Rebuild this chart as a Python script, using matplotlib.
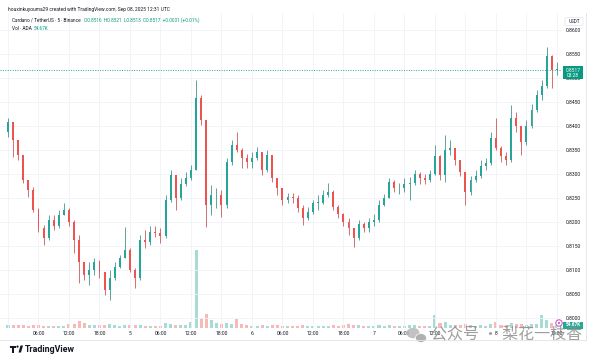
import matplotlib
matplotlib.use('Agg')
import matplotlib.pyplot as plt
import matplotlib.patches as mpatches
import numpy as np

plt.rcParams['font.family'] = ['Roboto', 'Noto Sans CJK SC', 'DejaVu Sans']

# ADA/USDT, hourly candles, Sep 04 00:00 -> Sep 08 12:00 UTC
first_open = 0.8388
closes = [0.8408, 0.8371, 0.8340, 0.8288, 0.8267, 0.8225, 0.8188, 0.8167, 0.8204, 0.8192,
          0.8215, 0.8225, 0.8200, 0.8163, 0.8117, 0.8090, 0.8100, 0.8117, 0.8096, 0.8058,
          0.8083, 0.8106, 0.8125, 0.8142, 0.8100, 0.8083, 0.8163, 0.8158, 0.8179, 0.8177,
          0.8171, 0.8246, 0.8298, 0.8250, 0.8279, 0.8292, 0.8308, 0.8458, 0.8413, 0.8235,
          0.8256, 0.8256, 0.8235, 0.8325, 0.8360, 0.8350, 0.8333, 0.8325, 0.8333, 0.8346,
          0.8308, 0.8340, 0.8292, 0.8271, 0.8246, 0.8252, 0.8250, 0.8229, 0.8208, 0.8221,
          0.8240, 0.8240, 0.8256, 0.8263, 0.8231, 0.8217, 0.8200, 0.8188, 0.8167, 0.8196,
          0.8188, 0.8200, 0.8204, 0.8235, 0.8250, 0.8283, 0.8271, 0.8271, 0.8279, 0.8281,
          0.8300, 0.8292, 0.8288, 0.8300, 0.8338, 0.8298, 0.8350, 0.8354, 0.8329, 0.8304,
          0.8263, 0.8288, 0.8296, 0.8317, 0.8323, 0.8375, 0.8354, 0.8338, 0.8329, 0.8417,
          0.8400, 0.8367, 0.8400, 0.8433, 0.8465, 0.8483, 0.8546, 0.8517, 0.8517]
highs = [0.8417, 0.8408, 0.8371, 0.8333, 0.8288, 0.8273, 0.8229, 0.8194, 0.8215, 0.8215,
         0.8225, 0.8240, 0.8229, 0.8204, 0.8173, 0.8117, 0.8117, 0.8125, 0.8121, 0.8096,
         0.8100, 0.8117, 0.8131, 0.8190, 0.8146, 0.8104, 0.8173, 0.8183, 0.8192, 0.8192,
         0.8188, 0.8256, 0.8308, 0.8298, 0.8292, 0.8304, 0.8319, 0.8496, 0.8465, 0.8413,
         0.8277, 0.8271, 0.8267, 0.8333, 0.8371, 0.8388, 0.8354, 0.8342, 0.8346, 0.8356,
         0.8346, 0.8350, 0.8340, 0.8292, 0.8271, 0.8260, 0.8260, 0.8256, 0.8235, 0.8231,
         0.8246, 0.8256, 0.8267, 0.8281, 0.8267, 0.8235, 0.8219, 0.8208, 0.8188, 0.8204,
         0.8200, 0.8208, 0.8217, 0.8246, 0.8258, 0.8292, 0.8288, 0.8281, 0.8292, 0.8294,
         0.8308, 0.8304, 0.8300, 0.8308, 0.8360, 0.8340, 0.8381, 0.8371, 0.8354, 0.8329,
         0.8304, 0.8296, 0.8308, 0.8329, 0.8333, 0.8388, 0.8417, 0.8358, 0.8346, 0.8444,
         0.8429, 0.8400, 0.8413, 0.8446, 0.8475, 0.8496, 0.8565, 0.8548, 0.8533]
lows = [0.8377, 0.8335, 0.8329, 0.8281, 0.8252, 0.8221, 0.8179, 0.8152, 0.8163, 0.8183,
        0.8188, 0.8215, 0.8192, 0.8135, 0.8073, 0.8079, 0.8069, 0.8090, 0.8083, 0.8048,
        0.8038, 0.8079, 0.8104, 0.8125, 0.8096, 0.8063, 0.8079, 0.8146, 0.8152, 0.8169,
        0.8156, 0.8167, 0.8242, 0.8225, 0.8246, 0.8275, 0.8288, 0.8308, 0.8402, 0.8190,
        0.8215, 0.8229, 0.8210, 0.8229, 0.8319, 0.8346, 0.8313, 0.8313, 0.8313, 0.8329,
        0.8298, 0.8304, 0.8283, 0.8256, 0.8235, 0.8240, 0.8240, 0.8221, 0.8194, 0.8204,
        0.8217, 0.8225, 0.8238, 0.8252, 0.8225, 0.8208, 0.8192, 0.8173, 0.8148, 0.8163,
        0.8179, 0.8179, 0.8192, 0.8200, 0.8233, 0.8250, 0.8263, 0.8258, 0.8263, 0.8246,
        0.8277, 0.8279, 0.8279, 0.8283, 0.8298, 0.8288, 0.8283, 0.8340, 0.8319, 0.8296,
        0.8235, 0.8256, 0.8283, 0.8292, 0.8308, 0.8319, 0.8350, 0.8325, 0.8319, 0.8325,
        0.8388, 0.8340, 0.8360, 0.8396, 0.8429, 0.8454, 0.8479, 0.8479, 0.8506]
# volume, thousand ADA
volumes = [60, 70, 60, 55, 50, 60, 55, 50, 45, 50, 45, 50, 80, 90, 140, 100, 70, 55, 60, 70,
           80, 55, 50, 60, 55, 60, 70, 50, 45, 45, 50, 100, 80, 70, 60, 55, 120, 1560, 200, 280,
           160, 110, 90, 100, 80, 180, 80, 60, 50, 50, 55, 50, 60, 55, 50, 40, 40, 45, 55, 45,
           40, 40, 45, 50, 55, 50, 60, 90, 70, 60, 45, 40, 45, 60, 50, 70, 50, 45, 45, 60,
           55, 45, 45, 50, 260, 110, 120, 70, 60, 55, 80, 60, 50, 55, 50, 90, 120, 70, 60, 100,
           80, 90, 70, 80, 90, 260, 160, 110, 55]

tick_hours = [0, 6, 12, 18, 24, 30, 36, 42, 48, 54, 60, 66, 72, 78, 84, 90, 96, 102, 108]
# labels under the watermark are not visible in the screenshot
tick_labels = ['', '06:00', '12:00', '18:00', '5', '06:00', '12:00', '18:00', '6', '06:00',
               '12:00', '18:00', '7', '06:00', '12:00', '', '8', '', '12:00']
price_ticks = [0.8000, 0.8050, 0.8100, 0.8150, 0.8200, 0.8250, 0.8300, 0.8350, 0.8400,
               0.8450, 0.8500, 0.8550, 0.8600]
last_price = 0.8517
last_vol = '54.67K'

UP, DOWN = '#26a69a', '#ef5350'
TXT = '#131722'
GRID = '#f0f3fa'

W, H = 600, 359
fig = plt.figure(figsize=(W / 100, H / 100), dpi=100)
fig.patch.set_facecolor('white')

def rect(x0, y0, x1, y1):
    return [x0 / W, 1 - y1 / H, (x1 - x0) / W, (y1 - y0) / H]

pane = rect(0, 13, 562, 328)
vax = fig.add_axes(pane, zorder=0)
ax = fig.add_axes(pane, zorder=1)
ax.set_facecolor('none')

hours = np.arange(len(closes))
opens = np.array([first_open] + closes[:-1])
c = np.array(closes)
up = c >= opens
cols = np.where(up, UP, DOWN)

xlim = (-1.57, 109.0)
ax.set_xlim(*xlim)
ax.set_ylim(0.79792, 0.86354)
vax.set_xlim(*xlim)
vax.set_ylim(0, 6300)

# volume
vax.bar(hours, volumes, width=0.6, color=cols, alpha=0.4, linewidth=0)
vax.axis('off')

# candles
ax.vlines(hours, lows, highs, colors=np.where(up, '#1f7f76', '#c23a38'), linewidth=0.5, zorder=3)
body_lo = np.minimum(opens, c)
body_h = np.maximum(np.abs(c - opens), 0.00008)
ax.bar(hours, body_h, bottom=body_lo, width=0.38, color=cols, linewidth=0, zorder=4)

ax.axhline(last_price, color=UP, linewidth=0.7, linestyle=(0, (1, 1.5)), zorder=5)

# grid + axes
ax.set_xticks(tick_hours)
ax.set_xticklabels(tick_labels)
ax.set_yticks(price_ticks)
ax.set_yticklabels([f'{p:.4f}' for p in price_ticks])
ax.yaxis.tick_right()
ax.tick_params(axis='both', length=0, labelsize=3.6, labelcolor=TXT)
ax.tick_params(axis='y', pad=3)
ax.tick_params(axis='x', pad=2)
ax.grid(True, color=GRID, linewidth=0.6)
ax.set_axisbelow(True)
for s in ax.spines.values():
    s.set_visible(False)

# pixel overlay for labels / decorations
ov = fig.add_axes([0, 0, 1, 1], zorder=6)
ov.set_xlim(0, W)
ov.set_ylim(H, 0)
ov.axis('off')
ov.set_facecolor('none')

ov.plot([586, 586], [13, 340], color='#e0e3eb', linewidth=0.6)
ov.plot([0, 586], [340, 340], color='#e0e3eb', linewidth=0.6)

# header
ov.text(8, 9, 'houxinkuyouma29 created with TradingView.com, Sep 08, 2025 12:31 UTC',
        fontsize=3.5, color=TXT, va='center')
ov.text(12, 20, 'Cardano / TetherUS · 5 · Binance', fontsize=3.4, color=TXT, va='center')
ov.text(84, 20, 'O0.8516  H0.8521  L0.8513  C0.8517  +0.0001 (+0.01%)',
        fontsize=3.4, color='#089981', va='center')
ov.text(12, 28.5, 'Vol · ADA', fontsize=3.4, color=TXT, va='center')
ov.text(34, 28.5, '54.67K', fontsize=3.4, color='#089981', va='center')

# USDT badge
ov.add_patch(mpatches.FancyBboxPatch((565, 17.5), 18, 8, boxstyle='round,pad=0,rounding_size=1.5',
                                     facecolor='white', edgecolor='#e0e3eb', linewidth=0.5))
ov.text(574, 21.5, 'USDT', fontsize=3.3, color=TXT, ha='center', va='center')

# last price badge, placed from the price scale
py = H - ax.transData.transform((0, last_price))[1]
ov.add_patch(mpatches.Rectangle((563, py - 4), 20, 13.5, facecolor='#089981', edgecolor='none'))
ov.text(573, py + 0.5, f'{last_price:.4f}', fontsize=3.5, color='white', ha='center', va='center')
ov.text(573, py + 6, '03:28', fontsize=3.5, color='white', ha='center', va='center')

# volume badge + marker
ov.add_patch(mpatches.Rectangle((563, 321.5), 20, 7, facecolor='#22ab94', edgecolor='none'))
ov.text(573, 325, last_vol, fontsize=3.4, color='white', ha='center', va='center', fontweight='bold')
ov.add_patch(mpatches.Circle((559, 323), 3.2, facecolor='white', edgecolor='#d442c8', linewidth=0.7))
ov.add_patch(mpatches.Circle((559, 323), 1.0, facecolor='#d442c8', edgecolor='none'))

# TradingView logo
ov.add_patch(mpatches.Rectangle((10, 345.5), 6, 2.2, facecolor=TXT))
ov.add_patch(mpatches.Rectangle((12.2, 345.5), 2.2, 7, facecolor=TXT))
ov.add_patch(mpatches.Circle((17.5, 346.6), 1.1, facecolor=TXT))
ov.add_patch(mpatches.Polygon([(18.5, 352.5), (20.5, 345.5), (23, 345.5), (21, 352.5)], facecolor=TXT))
ov.text(25, 349.2, 'TradingView', fontsize=6.4, color=TXT, va='center', fontweight='bold')

# watermark
ov.add_patch(mpatches.Ellipse((413, 333), 13, 10.5, facecolor='#b8b8b8', alpha=0.85, edgecolor='none'))
ov.add_patch(mpatches.Ellipse((421, 338), 11, 9, facecolor='#a8a8a8', alpha=0.9, edgecolor='white', linewidth=0.6))
ov.text(431, 335, '公众号 · 梨花一枝香', fontsize=11.5, color='#8c8c8c', alpha=0.85,
        va='center', family=['Noto Sans CJK SC', 'DejaVu Sans'])

fig.savefig('out.png', dpi=100, facecolor='white')
